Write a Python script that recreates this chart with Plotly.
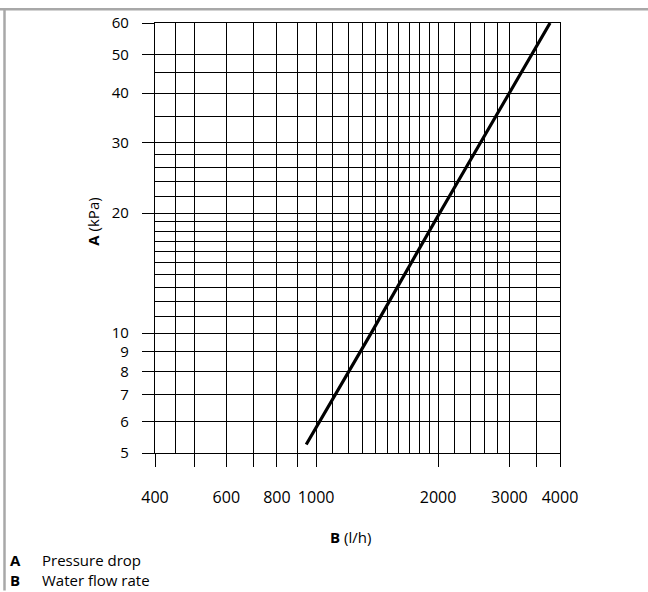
import plotly.graph_objects as go

# Data (straight line on log-log axes)
flow = [945, 1375, 2000, 3000, 3780]
pressure = [5.25, 10.1, 19.7, 40, 60]

x_major = [400, 500, 600, 700, 800, 900, 1000, 2000, 3000, 3500, 4000]
x_major_text = ["400", "", "600", "", "800", "", "1000", "2000", "3000", "", "4000"]
x_minor = [450, 1100, 1200, 1300, 1400, 1500, 1600, 1700, 1800, 1900,
           2200, 2400, 2600, 2800]
y_major = [5, 6, 7, 8, 9, 10, 20, 30, 40, 50, 60]
y_major_text = ["5", "6", "7", "8", "9", "10", "20", "30", "40", "50", "60"]
y_minor = [11, 12, 13, 14, 15, 16, 17, 18, 19, 22, 24, 26, 28, 35, 45]

legend_keys = ["A", "B"]
legend_texts = ["Pressure drop", "Water flow rate"]

W, H = 648, 592
L, R, T, B = 155, 88, 18, 139
pw, ph = W - L - R, H - T - B

def px2x(px):
    return (px - L) / pw

def py2y(py):
    return (H - B - py) / ph

FONT = "Open Sans"
TXT = "#000"

fig = go.Figure()
fig.add_trace(go.Scatter(x=flow, y=pressure, mode="lines",
                         line=dict(color="black", width=3.2), showlegend=False,
                         hoverinfo="skip"))

grid = dict(showgrid=True, gridcolor="black", gridwidth=1.3)
fig.update_xaxes(type="log", range=[2.60206, 3.60206],
                 tickmode="array", tickvals=x_major, ticktext=x_major_text,
                 ticks="outside", ticklen=13, tickwidth=1.3, tickcolor="black",
                 minor=dict(tickmode="array", tickvals=x_minor, ticks="", **grid),
                 showline=True, linecolor="black", linewidth=1.3, mirror=True,
                 zeroline=False, ticklabelstandoff=17,
                 tickfont=dict(family=FONT, size=16, color=TXT), **grid)
fig.update_yaxes(type="log", range=[0.69897, 1.778151],
                 tickmode="array", tickvals=y_major, ticktext=y_major_text,
                 ticks="outside", ticklen=12, tickwidth=1.3, tickcolor="black",
                 minor=dict(tickmode="array", tickvals=y_minor, ticks="", **grid),
                 showline=True, linecolor="black", linewidth=1.3, mirror=True,
                 zeroline=False, ticklabelstandoff=10,
                 tickfont=dict(family=FONT, size=15, color=TXT), **grid)

ann = []
ann.append(dict(text="<b>A</b> (kPa)", x=px2x(93), y=py2y(219), xref="paper", yref="paper",
                textangle=-90, showarrow=False, xanchor="center", yanchor="middle",
                font=dict(family=FONT, size=15, color=TXT)))
ann.append(dict(text="<b>B</b> (l/h)", x=px2x(350), y=py2y(538), xref="paper", yref="paper",
                showarrow=False, xanchor="center", yanchor="middle",
                font=dict(family=FONT, size=15, color=TXT)))
ann.append(dict(text="<br>".join("<b>%s</b>" % k for k in legend_keys),
                x=px2x(8), y=py2y(571), xref="paper", yref="paper",
                showarrow=False, xanchor="left", yanchor="middle", align="left",
                font=dict(family=FONT, size=15, color=TXT)))
ann.append(dict(text="<br>".join(legend_texts),
                x=px2x(40), y=py2y(571), xref="paper", yref="paper",
                showarrow=False, xanchor="left", yanchor="middle", align="left",
                font=dict(family=FONT, size=15, color=TXT)))

shapes = [
    dict(type="line", xref="paper", yref="paper", x0=px2x(0), x1=px2x(W),
         y0=py2y(4), y1=py2y(4), line=dict(color="#a8a8a8", width=2.5)),
    dict(type="line", xref="paper", yref="paper", x0=px2x(4.5), x1=px2x(4.5),
         y0=py2y(3), y1=py2y(H), line=dict(color="#a8a8a8", width=2.5)),
]

fig.update_layout(width=W, height=H, margin=dict(l=L, r=R, t=T, b=B),
                  paper_bgcolor="white", plot_bgcolor="white",
                  annotations=ann, shapes=shapes, showlegend=False)

fig.write_html("out.html", config={"displayModeBar": False},
               post_script="document.body.style.margin='0';document.body.style.padding='0';")
